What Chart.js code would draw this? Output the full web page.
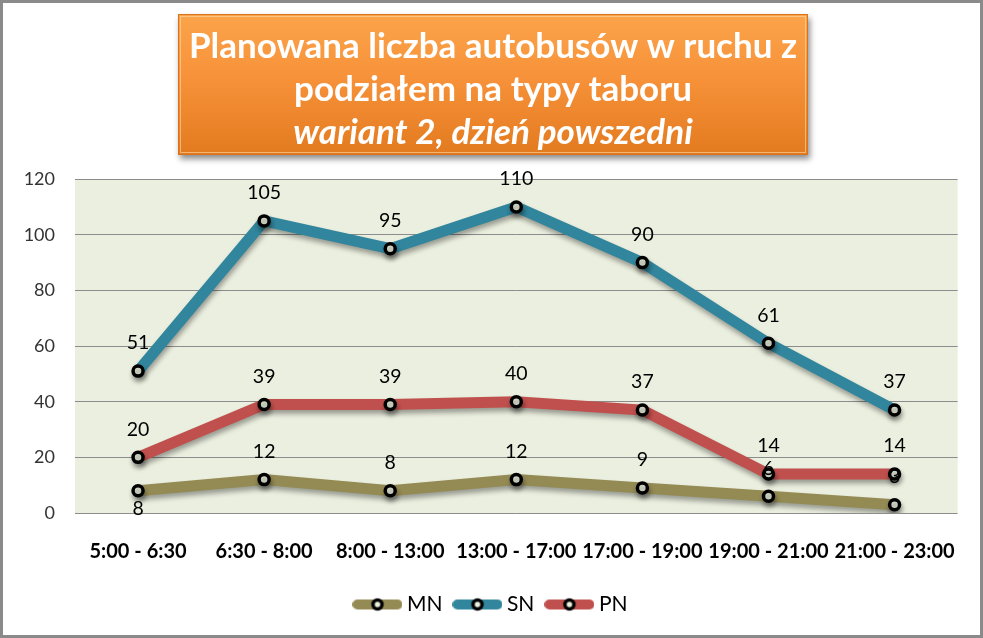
<!DOCTYPE html>
<html>
<head>
<meta charset="utf-8">
<script src="https://cdn.jsdelivr.net/npm/chart.js@4.4.1/dist/chart.umd.min.js"></script>
<style>
html,body{margin:0;padding:0;background:#fff;}
#wrap{position:relative;width:983px;height:638px;}
</style>
</head>
<body>
<div id="wrap"><canvas id="c" width="983" height="638"></canvas></div>
<script>
const categories = ["5:00 - 6:30","6:30 - 8:00","8:00 - 13:00","13:00 - 17:00","17:00 - 19:00","19:00 - 21:00","21:00 - 23:00"];
const mnValues = [8, 12, 8, 12, 9, 6, 3];
const snValues = [51, 105, 95, 110, 90, 61, 37];
const pnValues = [20, 39, 39, 40, 37, 14, 14];
const seriesNames = ["MN", "SN", "PN"];
const yTicks = [0, 20, 40, 60, 80, 100, 120];
const titleLines = ["Planowana liczba autobusów w ruchu z", "podziałem na typy taboru"];
const subtitleText = "wariant 2, dzień powszedni";

const colors = ["#948A54", "#31859C", "#C0504D"];
const FONT = "Lato, 'Open Sans', sans-serif";

function legendIcon(color) {
  const cv = document.createElement('canvas');
  cv.width = 50; cv.height = 16;
  const c = cv.getContext('2d');
  c.strokeStyle = color; c.lineWidth = 10; c.lineCap = 'round';
  c.beginPath(); c.moveTo(5, 8); c.lineTo(45, 8); c.stroke();
  c.beginPath(); c.arc(25, 8, 4.5, 0, Math.PI * 2);
  c.fillStyle = '#EBF1DE'; c.fill();
  c.lineWidth = 3.5; c.strokeStyle = '#000'; c.stroke();
  return cv;
}

const framePlugin = {
  id: 'frame',
  afterLayout(chart) {
    chart.boxes.forEach(b => {
      if ((b.position === 'top' || b.position === 'bottom') && b.fullSize && !b.axis) {
        b.left += 21;
      }
    });
  },
  beforeDraw(chart) {
    const ctx = chart.ctx;
    ctx.save();
    ctx.fillStyle = '#fff';
    ctx.fillRect(0, 0, chart.width, chart.height);
    const a = chart.chartArea;
    ctx.fillStyle = '#EBEFDF';
    ctx.fillRect(a.left, a.top, a.right - a.left, a.bottom - a.top);
    const x = 178, y = 14, w = 630, h = 141;
    ctx.shadowColor = 'rgba(0,0,0,0.45)';
    ctx.shadowBlur = 6; ctx.shadowOffsetX = 2; ctx.shadowOffsetY = 4;
    const g = ctx.createLinearGradient(0, y, 0, y + h);
    g.addColorStop(0, '#FBA44A');
    g.addColorStop(0.45, '#F7923A');
    g.addColorStop(1, '#E37A1F');
    ctx.fillStyle = g;
    ctx.fillRect(x, y, w, h);
    ctx.shadowColor = 'transparent';
    ctx.strokeStyle = '#D9741E'; ctx.lineWidth = 1;
    ctx.strokeRect(x + 0.5, y + 0.5, w - 1, h - 1);
    ctx.strokeStyle = 'rgba(255,220,170,0.6)';
    ctx.strokeRect(x + 2.5, y + 2.5, w - 5, h - 5);
    ctx.strokeStyle = '#8a8a8a'; ctx.lineWidth = 3;
    ctx.strokeRect(1.5, 1.5, chart.width - 3, chart.height - 3);
    ctx.restore();
  }
};

const shadowPlugin = {
  id: 'lineShadow',
  beforeDatasetsDraw(chart) {
    const ctx = chart.ctx;
    ctx.save();
    ctx.shadowColor = 'rgba(0,0,0,0.35)';
    ctx.shadowBlur = 5; ctx.shadowOffsetX = 1; ctx.shadowOffsetY = 4;
  },
  afterDatasetsDraw(chart) {
    chart.ctx.restore();
  }
};

const labelPlugin = {
  id: 'valueLabels',
  afterDatasetsDraw(chart) {
    const ctx = chart.ctx;
    ctx.save();
    ctx.font = "19.5px " + FONT;
    ctx.fillStyle = '#000';
    ctx.textAlign = 'center';
    ctx.textBaseline = 'middle';
    chart.data.datasets.forEach((ds, di) => {
      const meta = chart.getDatasetMeta(di);
      meta.data.forEach((pt, i) => {
        const below = (di === 0 && i === 0);
        ctx.fillText(String(ds.data[i]), pt.x, below ? pt.y + 18 : pt.y - 28);
      });
    });
    ctx.restore();
  }
};

function mkDataset(label, data, color) {
  return {
    label, data,
    borderColor: color,
    backgroundColor: color,
    borderWidth: 11,
    tension: 0,
    pointRadius: 5,
    pointHoverRadius: 5,
    pointBorderWidth: 3.5,
    pointBorderColor: '#000',
    pointBackgroundColor: '#EBF1DE',
    pointStyle: 'circle',
    legendIcon: legendIcon(color)
  };
}

new Chart(document.getElementById('c'), {
  type: 'line',
  data: {
    labels: categories,
    datasets: [
      mkDataset(seriesNames[0], mnValues, colors[0]),
      mkDataset(seriesNames[1], snValues, colors[1]),
      mkDataset(seriesNames[2], pnValues, colors[2])
    ]
  },
  options: {
    responsive: false,
    animation: false,
    devicePixelRatio: 1,
    layout: { padding: { left: 0, right: 18, top: 0, bottom: 13 } },
    plugins: {
      tooltip: { enabled: false },
      title: {
        display: true,
        text: titleLines,
        color: '#fff',
        font: { family: FONT, size: 35, weight: 'bold', lineHeight: 1.23 },
        padding: { top: 25, bottom: 0 }
      },
      subtitle: {
        display: true,
        text: subtitleText,
        color: '#fff',
        font: { family: FONT, size: 35, weight: 'bold', style: 'italic', lineHeight: 1.23 },
        padding: { top: 0, bottom: 25 }
      },
      legend: {
        position: 'bottom',
        labels: {
          usePointStyle: true,
          pointStyleWidth: 38,
          boxHeight: 16,
          color: '#000',
          font: { family: FONT, size: 21 },
          padding: 16,
          generateLabels(chart) {
            return chart.data.datasets.map((ds, i) => ({
              text: ds.label,
              pointStyle: ds.legendIcon,
              fillStyle: ds.borderColor,
              strokeStyle: ds.borderColor,
              lineWidth: 0,
              hidden: false,
              datasetIndex: i,
              fontColor: '#000'
            }));
          }
        }
      }
    },
    scales: {
      x: {
        offset: true,
        grid: { display: false, drawTicks: false },
        border: { display: false },
        ticks: {
          autoSkip: false, maxRotation: 0, minRotation: 0,
          padding: 27,
          color: '#000',
          font: { family: FONT, size: 20, weight: 'bold' }
        },
        afterFit(scale) { scale.height = 65; }
      },
      y: {
        min: 0, max: 120,
        afterBuildTicks(scale) { scale.ticks = yTicks.map(v => ({ value: v })); },
        grid: { color: '#8c8c8c', lineWidth: 1, drawTicks: false },
        border: { display: false },
        ticks: {
          padding: 20,
          color: '#333',
          font: { family: FONT, size: 18 }
        },
        afterFit(scale) { scale.width = 75; }
      }
    }
  },
  plugins: [framePlugin, shadowPlugin, labelPlugin]
});
</script>
</body>
</html>
